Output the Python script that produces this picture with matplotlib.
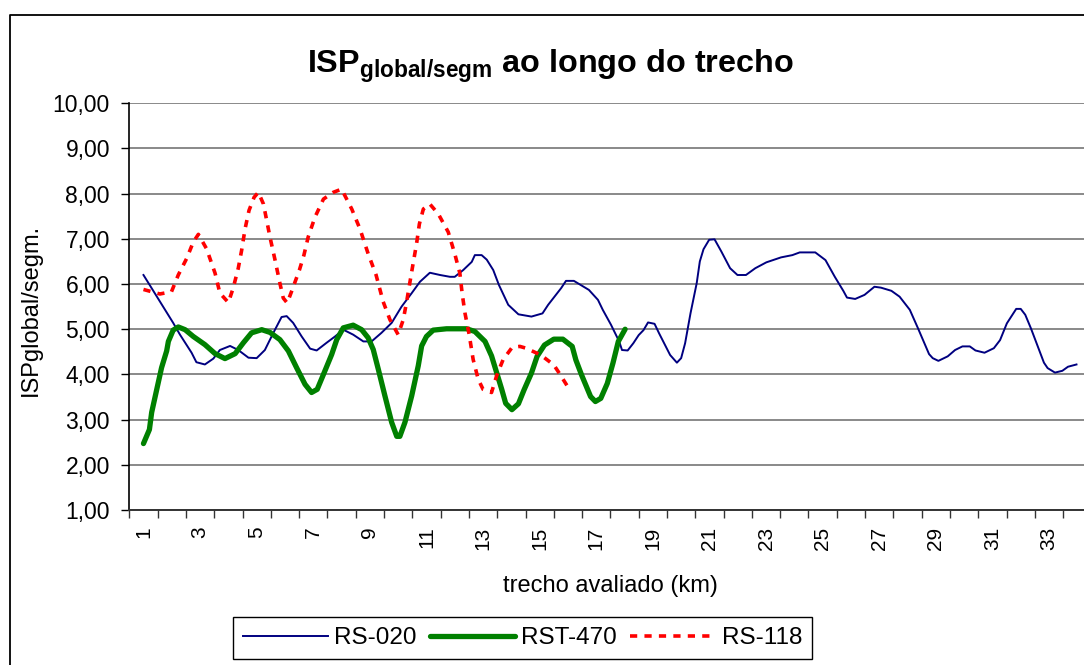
import matplotlib
matplotlib.use('Agg')
import matplotlib.pyplot as plt
from matplotlib.lines import Line2D
import numpy as np

# valores (km, ISP global/segm)
rs020_km = [1.0, 2.05, 2.29, 2.70, 2.87, 3.17, 3.47, 3.70, 4.06, 4.35, 4.71, 5.0, 5.29, 5.59, 5.88,
            6.06, 6.29, 6.59, 6.89, 7.12, 7.47, 7.77, 8.06, 8.41, 8.77, 9.06, 9.41, 9.77, 10.12, 10.48,
            10.77, 11.12, 11.48, 11.83, 12.0, 12.3, 12.6, 12.71, 12.95, 13.13, 13.36, 13.56, 13.89, 14.25,
            14.71, 15.10, 15.30, 15.76, 15.93, 16.21, 16.74, 17.06, 17.23, 17.52, 17.81, 17.91, 18.11,
            18.31, 18.5, 18.67, 18.83, 19.06, 19.22, 19.61, 19.85, 20.0, 20.14, 20.33, 20.55, 20.66,
            20.79, 20.99, 21.18, 21.42, 21.73, 21.99, 22.29, 22.62, 23.01, 23.53, 23.93, 24.19, 24.74,
            25.1, 25.43, 25.73, 25.86, 26.15, 26.48, 26.83, 27.06, 27.43, 27.72, 28.08, 28.37, 28.76,
            28.89, 29.09, 29.42, 29.68, 29.94, 30.2, 30.4, 30.72, 31.05, 31.27, 31.51, 31.84, 32.0,
            32.16, 32.36, 32.82, 32.95, 33.21, 33.47, 33.67, 33.97]
rs020 = [6.20, 5.14, 4.88, 4.48, 4.27, 4.22, 4.35, 4.54, 4.63, 4.54, 4.37, 4.36, 4.54, 4.92, 5.27,
         5.29, 5.14, 4.84, 4.57, 4.53, 4.70, 4.84, 4.99, 4.88, 4.73, 4.73, 4.92, 5.14, 5.50, 5.80,
         6.05, 6.25, 6.20, 6.16, 6.16, 6.31, 6.49, 6.64, 6.64, 6.54, 6.31, 5.98, 5.54, 5.33,
         5.28, 5.35, 5.54, 5.91, 6.07, 6.07, 5.87, 5.65, 5.43, 5.10, 4.73, 4.54, 4.53,
         4.69, 4.87, 4.98, 5.15, 5.12, 4.91, 4.43, 4.26, 4.36, 4.69, 5.35, 6.02, 6.50,
         6.77, 6.98, 6.99, 6.72, 6.35, 6.20, 6.20, 6.35, 6.48, 6.59, 6.64, 6.70, 6.70,
         6.53, 6.16, 5.85, 5.70, 5.67, 5.76, 5.94, 5.92, 5.85, 5.72, 5.43, 5.02, 4.45,
         4.36, 4.30, 4.40, 4.54, 4.62, 4.62, 4.53, 4.48, 4.58, 4.76, 5.13, 5.45, 5.45,
         5.32, 5.02, 4.26, 4.14, 4.04, 4.08, 4.17, 4.22]

rst470_km = [1.0, 1.21, 1.29, 1.47, 1.64, 1.82, 1.88, 2.05, 2.23, 2.47, 2.76, 3.17, 3.53, 3.88, 4.24,
             4.53, 4.82, 5.18, 5.47, 5.82, 6.12, 6.41, 6.71, 6.94, 7.14, 7.36, 7.65, 7.83, 8.06, 8.41,
             8.71, 8.94, 9.12, 9.30, 9.53, 9.77, 9.95, 10.06, 10.24, 10.48, 10.71, 10.83, 11.0, 11.24,
             11.71, 12.42, 12.71, 13.07, 13.30, 13.48, 13.66, 13.8, 14.02, 14.25, 14.45, 14.71, 14.91,
             15.17, 15.5, 15.82, 16.15, 16.28, 16.48, 16.8, 16.97, 17.16, 17.39, 17.59, 17.78, 18.02]
rst470 = [2.47, 2.78, 3.16, 3.67, 4.15, 4.52, 4.73, 4.98, 5.05, 4.99, 4.84, 4.66, 4.46, 4.35, 4.46,
          4.70, 4.92, 4.99, 4.93, 4.77, 4.52, 4.15, 3.78, 3.60, 3.67, 4.00, 4.44, 4.77, 5.03, 5.09,
          4.99, 4.81, 4.55, 4.11, 3.53, 2.94, 2.63, 2.63, 2.94, 3.53, 4.19, 4.63, 4.84, 4.98,
          5.01, 5.01, 4.95, 4.73, 4.41, 4.04, 3.67, 3.36, 3.22, 3.35, 3.66, 4.03, 4.40,
          4.65, 4.78, 4.78, 4.62, 4.32, 3.99, 3.51, 3.40, 3.47, 3.80, 4.25, 4.73, 5.0]

rs118_km = [1.0, 1.58, 1.99, 2.23, 2.53, 2.76, 2.94, 3.23, 3.53, 3.70, 4.0, 4.17, 4.35, 4.47, 4.59,
            4.73, 4.91, 5.06, 5.24, 5.47, 5.65, 5.82, 5.94, 6.08, 6.23, 6.51, 6.67, 6.82, 7.06, 7.36,
            7.71, 8.0, 8.36, 8.65, 8.94, 9.22, 9.47, 9.71, 10.0, 10.18, 10.3, 10.41, 10.53, 10.65,
            10.75, 10.89, 11.12, 11.42, 11.77, 12.0, 12.18, 12.26, 12.36, 12.51, 12.65, 12.83, 13.0,
            13.3, 13.48, 13.71, 14.03, 14.3, 14.52, 15.04, 15.5, 15.69, 16.02]
rs118 = [5.88, 5.78, 5.83, 6.20, 6.57, 6.93, 7.10, 6.78, 6.24, 5.80, 5.59, 5.91, 6.35, 6.75, 7.22,
         7.63, 7.92, 8.03, 7.77, 7.04, 6.53, 6.02, 5.69, 5.58, 5.83, 6.31, 6.64, 7.04, 7.48, 7.88,
         8.03, 8.10, 7.66, 7.22, 6.67, 6.20, 5.61, 5.21, 4.88, 5.21, 5.61, 6.02, 6.46, 6.89,
         7.33, 7.66, 7.77, 7.55, 7.15, 6.67, 6.24, 5.80, 5.36, 4.88, 4.33, 3.89, 3.67,
         3.60, 3.97, 4.33, 4.60, 4.62, 4.58, 4.43, 4.21, 4.03, 3.70]

km_labels = list(range(1, 34, 2))
y_ticks = list(range(1, 11))

plt.rcParams['font.family'] = 'Liberation Sans'
plt.rcParams['mathtext.fontset'] = 'custom'
plt.rcParams['mathtext.rm'] = 'Liberation Sans'
plt.rcParams['mathtext.bf'] = 'Liberation Sans:bold'

fig = plt.figure(figsize=(10.84, 6.65), dpi=100)
ax = fig.add_axes([0.1193, 0.2331, 0.8876, 0.6116])

ax.plot(rs020_km, rs020, color='#000080', lw=1.4, label='RS-020')
ax.plot(rst470_km, rst470, color='#008000', lw=3.8, solid_capstyle='round',
        solid_joinstyle='round', label='RST-470')
ax.plot(rs118_km, rs118, color='#ff0000', lw=2.6, linestyle=(0, (2.0, 2.0)),
        dash_capstyle='butt', label='RS-118')

ax.set_xlim(0.5, 34.5)
ax.set_ylim(1, 10)

ax.set_xticks(km_labels)
ax.set_xticklabels([str(k) for k in km_labels], rotation=90, fontsize=15)
ax.set_xticks(np.arange(0.5, 34.6, 1), minor=True)
ax.tick_params(axis='x', which='major', length=0, pad=12)
ax.tick_params(axis='x', which='minor', length=6, width=1, color='#333333', direction='out')

ax.set_yticks(y_ticks)
ax.set_yticklabels([f'{v:.2f}'.replace('.', ',') for v in y_ticks], fontsize=16.5)
ax.tick_params(axis='y', length=6, width=1, pad=8, direction='out')

ax.yaxis.grid(True, color='#808080', lw=1.3)
ax.set_axisbelow(True)
for s in ['top', 'right']:
    ax.spines[s].set_visible(False)
ax.spines['left'].set_color('black')
ax.spines['left'].set_linewidth(1.2)
ax.spines['bottom'].set_color('#333333')
ax.spines['bottom'].set_linewidth(1.4)

fig.text(550/1084, 1-73/665, r'ISP$_{\mathbf{global/segm}}$ ao longo do trecho',
         ha='center', va='baseline', fontsize=23.3, fontweight='bold')
fig.text(31/1084, 1-310/665, 'ISPglobal/segm.', rotation=90, ha='center', va='center', fontsize=17)
fig.text(610/1084, 1-586/665, 'trecho avaliado (km)', ha='center', va='center', fontsize=17)

leg = fig.legend(loc='upper left', bbox_to_anchor=(233/1084, 1-617/665), ncol=3, fontsize=17.5,
                 frameon=True, fancybox=False, edgecolor='black', framealpha=1,
                 handlelength=3.5, handletextpad=0.25, columnspacing=0.55,
                 borderpad=0.42, borderaxespad=0)
leg.get_frame().set_linewidth(1.0)

# moldura externa do grafico (cortada a direita e embaixo)
fig.add_artist(Line2D([10/1084, 10/1084, 1.0], [0, 1-15/665, 1-15/665],
                      transform=fig.transFigure, color='black', lw=1.3))

fig.savefig('out.png', dpi=100)
